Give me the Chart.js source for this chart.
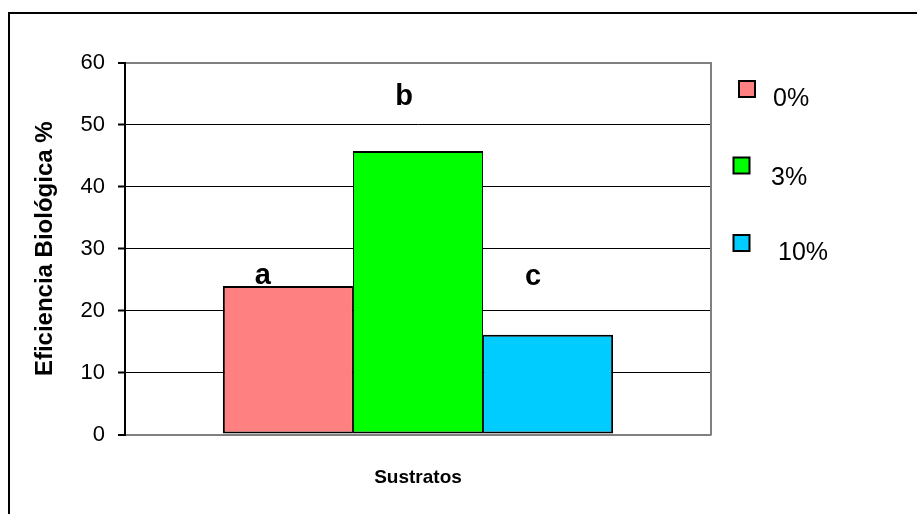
<!DOCTYPE html>
<html>
<head>
<meta charset="utf-8">
<title>Eficiencia Biológica</title>
<script src="https://cdn.jsdelivr.net/npm/chart.js@4.4.1/dist/chart.umd.min.js"></script>
<style>
  html, body { margin: 0; padding: 0; background: #ffffff; }
  #wrap { position: relative; width: 917px; height: 514px; }
</style>
</head>
<body>
<div id="wrap"><canvas id="chart" width="917" height="514"></canvas></div>
<script>
// Single substrate group, three concentrations
const categories = [''];
const seriesNames = ['0%', '3%', '10%'];
const seriesValues = [24.0, 45.8, 16.1];
const seriesColors = ['#FF8080', '#00FF00', '#00CCFF'];
const significanceLetters = ['a', 'b', 'c'];
const yTicks = [0, 10, 20, 30, 40, 50, 60];

const FONT = '"Liberation Sans", Arial, Helvetica, sans-serif';

const datasets = seriesNames.map((name, i) => ({
  label: name,
  data: [seriesValues[i]],
  backgroundColor: seriesColors[i],
  borderColor: '#000000',
  borderSkipped: false,
  borderWidth: {
    top: 2, bottom: 2,
    left: i === 0 ? 2 : 1,
    right: i === seriesNames.length - 1 ? 2 : 1
  }
}));

// Outer frame around the whole figure
const framePlugin = {
  id: 'frame',
  beforeDraw(chart) {
    const ctx = chart.ctx;
    ctx.save();
    ctx.strokeStyle = '#000000';
    ctx.lineWidth = 2;
    ctx.strokeRect(9, 13, 1200, 1200);
    ctx.restore();
  }
};

// Grey right edge of the plot area
const plotEdgePlugin = {
  id: 'plotEdge',
  beforeDatasetsDraw(chart) {
    const { ctx, chartArea } = chart;
    ctx.save();
    ctx.strokeStyle = '#808080';
    ctx.lineWidth = 2;
    ctx.beginPath();
    ctx.moveTo(chartArea.right, chartArea.top - 1);
    ctx.lineTo(chartArea.right, chartArea.bottom + 1);
    ctx.stroke();
    ctx.restore();
  }
};

// Significance letters drawn above each bar
const lettersPlugin = {
  id: 'letters',
  afterDatasetsDraw(chart, args, opts) {
    const { ctx } = chart;
    const yScale = chart.scales.y;
    ctx.save();
    ctx.font = 'bold 29px ' + FONT;
    ctx.fillStyle = '#000000';
    ctx.textAlign = 'center';
    ctx.textBaseline = 'middle';
    significanceLetters.forEach((letter, i) => {
      const bar = chart.getDatasetMeta(i).data[0];
      const y = yScale.getPixelForValue(opts.levels[i]);
      ctx.fillText(letter, bar.x + opts.shifts[i], y);
    });
    ctx.restore();
  }
};

// Legend on the right with free-standing entries
const sideLegendPlugin = {
  id: 'sideLegend',
  afterDraw(chart, args, opts) {
    const { ctx } = chart;
    ctx.save();
    chart.data.datasets.forEach((ds, i) => {
      const e = opts.entries[i];
      ctx.fillStyle = ds.backgroundColor;
      ctx.fillRect(e.bx, e.by, 16, 16);
      ctx.strokeStyle = '#000000';
      ctx.lineWidth = 2;
      ctx.strokeRect(e.bx, e.by, 16, 16);
      ctx.fillStyle = '#000000';
      ctx.font = '25px ' + FONT;
      ctx.textAlign = 'left';
      ctx.textBaseline = 'middle';
      ctx.fillText(ds.label, e.tx, e.ty);
    });
    ctx.restore();
  }
};

new Chart(document.getElementById('chart'), {
  type: 'bar',
  data: { labels: categories, datasets },
  plugins: [framePlugin, plotEdgePlugin, lettersPlugin, sideLegendPlugin],
  options: {
    responsive: false,
    animation: false,
    devicePixelRatio: 1,
    layout: { padding: { top: 63, right: 206, left: 0, bottom: 0 } },
    datasets: { bar: { categoryPercentage: 0.666, barPercentage: 1.0 } },
    plugins: {
      legend: { display: false },
      tooltip: { enabled: false },
      letters: { levels: [25.6, 54.5, 25.4], shifts: [-25, -14, -15] },
      sideLegend: {
        entries: [
          { bx: 739, by: 81, tx: 773, ty: 99 },
          { bx: 733.5, by: 157.5, tx: 771, ty: 178 },
          { bx: 733.5, by: 235, tx: 778, ty: 253 }
        ]
      }
    },
    scales: {
      x: {
        afterFit(scale) { scale.height = 79.5; },
        grid: { display: false },
        border: { display: false },
        ticks: { display: false },
        title: {
          display: true,
          text: 'Sustratos',
          color: '#000000',
          font: { family: FONT, size: 19, weight: 'bold' },
          padding: { top: 0, bottom: 25 }
        }
      },
      y: {
        min: 0,
        max: 60,
        afterFit(scale) { scale.width = 125; },
        afterBuildTicks(scale) { scale.ticks = yTicks.map(v => ({ value: v })); },
        ticks: {
          color: '#000000',
          padding: 13,
          font: { family: FONT, size: 22 }
        },
        grid: {
          color: c => (c.tick && (c.tick.value === 0 || c.tick.value === 60)) ? '#808080' : '#000000',
          lineWidth: c => (c.tick && (c.tick.value === 0 || c.tick.value === 60)) ? 2 : 1,
          tickColor: '#000000',
          tickLength: 7,
          tickWidth: 2
        },
        border: { display: true, color: '#000000', width: 2 },
        title: {
          display: true,
          text: 'Eficiencia Biológica %',
          color: '#000000',
          font: { family: FONT, size: 24, weight: 'bold' },
          padding: { top: 31, bottom: 0 }
        }
      }
    }
  }
});
</script>
</body>
</html>
